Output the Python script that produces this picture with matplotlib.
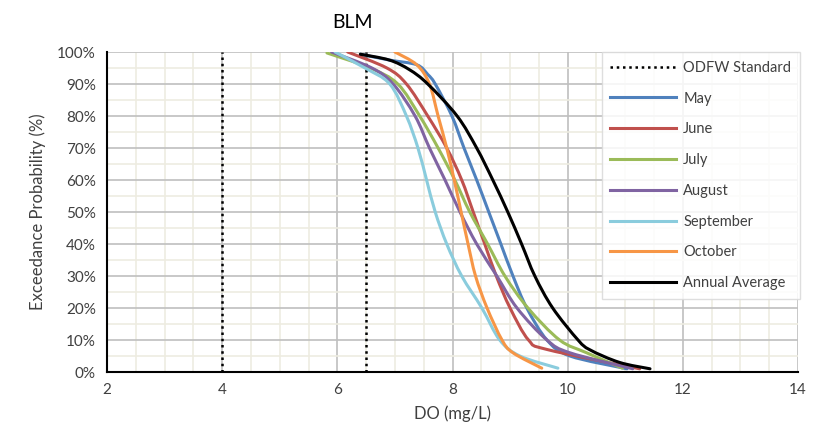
import matplotlib
matplotlib.use("Agg")
import matplotlib.pyplot as plt
from matplotlib.path import Path
from matplotlib.patches import PathPatch
from matplotlib.ticker import MultipleLocator, PercentFormatter

plt.rcParams["font.family"] = ["Lato", "DejaVu Sans"]

# exceedance probability (%) and DO (mg/L)
may_do = [6.4, 6.9, 7.38, 7.57, 7.7, 7.99, 8.2, 8.42, 8.63, 8.84, 9.05, 9.29, 9.64, 10.04, 11.03]
may_p = [99.3, 97.5, 96, 93, 90, 80, 70, 60, 50, 40, 30, 20, 10, 5, 1]

june_do = [6.18, 6.86, 7.2, 7.57, 7.9, 8.16, 8.36, 8.56, 8.76, 9.0, 9.32, 9.65, 11.25]
june_p = [100, 95, 90, 80, 70, 60, 50, 40, 30, 20, 10, 7, 1]

july_do = [5.82, 6.57, 7.05, 7.43, 7.75, 8.04, 8.3, 8.61, 8.91, 9.31, 9.86, 10.33, 10.95]
july_p = [99.7, 95, 90, 80, 70, 60, 50, 40, 30, 20, 10, 6, 1.2]

aug_do = [5.9, 6.6, 6.97, 7.35, 7.6, 7.87, 8.13, 8.42, 8.77, 9.12, 9.64, 10.04, 11.13]
aug_p = [100, 95, 90, 80, 70, 60, 50, 40, 30, 20, 10, 6, 1]

sep_do = [5.96, 6.48, 6.91, 7.2, 7.4, 7.55, 7.7, 7.9, 8.16, 8.51, 8.82, 9.17, 9.83]
sep_p = [100, 95, 90, 80, 70, 60, 50, 40, 30, 20, 10, 5, 1.2]

oct_do = [7.0, 7.38, 7.6, 7.75, 7.9, 8.03, 8.15, 8.27, 8.4, 8.6, 8.86, 9.05, 9.55]
oct_p = [100, 96, 90, 80, 70, 60, 50, 40, 30, 20, 10, 6, 1.2]

avg_do = [6.4, 6.9, 7.25, 7.57, 8.08, 8.42, 8.7, 8.96, 9.2, 9.43, 9.74, 10.18, 10.39, 10.9, 11.43]
avg_p = [99.3, 97.5, 94.5, 90, 80, 70, 60, 50, 40, 30, 20, 10, 6.9, 3, 1]

odfw_do = [4, 6.5]

series = [
    ("May", may_do, may_p, "#4F81BD"),
    ("June", june_do, june_p, "#C0504D"),
    ("July", july_do, july_p, "#9BBB59"),
    ("August", aug_do, aug_p, "#8064A2"),
    ("September", sep_do, sep_p, "#8ACCDD"),
    ("October", oct_do, oct_p, "#F79646"),
    ("Annual Average", avg_do, avg_p, "#000000"),
]


def smooth_path(xs, ys):
    # Excel-style smoothed line: Catmull-Rom segments as cubic Beziers
    pts = list(zip(xs, ys))
    verts = [pts[0]]
    codes = [Path.MOVETO]
    n = len(pts)
    for i in range(n - 1):
        p0 = pts[i - 1] if i > 0 else pts[i]
        p1 = pts[i]
        p2 = pts[i + 1]
        p3 = pts[i + 2] if i + 2 < n else pts[i + 1]
        c1 = (p1[0] + (p2[0] - p0[0]) / 6, p1[1] + (p2[1] - p0[1]) / 6)
        c2 = (p2[0] - (p3[0] - p1[0]) / 6, p2[1] - (p3[1] - p1[1]) / 6)
        verts += [c1, c2, p2]
        codes += [Path.CURVE4] * 3
    return Path(verts, codes)


fig = plt.figure(figsize=(8.13, 4.37), dpi=100)
ax = fig.add_axes([107 / 813, 65 / 437, 691 / 813, 320 / 437])

for i, x in enumerate(odfw_do):
    ax.plot([x, x], [0, 100], color="black", linestyle=(0, (1, 1.5)), lw=1.8,
            label="ODFW Standard" if i == 0 else None, zorder=3)

for name, x, y, c in series:
    ax.add_patch(PathPatch(smooth_path(x, y), fill=False, edgecolor=c, lw=2.2,
                           capstyle="round", zorder=4))
    ax.plot([], [], color=c, lw=2.2, label=name)

ax.set_xlim(2, 14)
ax.set_ylim(0, 100)
ax.xaxis.set_major_locator(MultipleLocator(2))
ax.xaxis.set_minor_locator(MultipleLocator(0.5))
ax.yaxis.set_major_locator(MultipleLocator(10))
ax.yaxis.set_minor_locator(MultipleLocator(5))
ax.yaxis.set_major_formatter(PercentFormatter(decimals=0))

ax.grid(which="minor", color="#EEECE1", lw=1.2, zorder=0)
ax.grid(which="major", color="#BFBFBF", lw=1.2, zorder=1)
ax.set_axisbelow(True)

for s in ["top", "right"]:
    ax.spines[s].set_visible(False)
for s in ["left", "bottom"]:
    ax.spines[s].set_linewidth(1.5)
    ax.spines[s].set_color("black")
    ax.spines[s].set_zorder(5)

ax.tick_params(which="both", length=0, labelsize=11, colors="#404040", pad=8)

ax.set_xlabel("DO (mg/L)", fontsize=12, color="#404040", labelpad=6)
ax.set_ylabel("Exceedance Probability (%)", fontsize=12, color="#404040", labelpad=8)
fig.text(352 / 813, 1 - 23 / 437, "BLM", fontsize=14, color="black", ha="center", va="center")

leg = ax.legend(loc="upper right", bbox_to_anchor=(1.003, 1.0), fontsize=10.5,
                frameon=True, fancybox=False, handlelength=4.5, labelspacing=1.15,
                borderpad=0.6, handletextpad=0.5, borderaxespad=0)
leg.get_frame().set_edgecolor("#D9D9D9")
leg.get_frame().set_facecolor("white")
leg.get_frame().set_alpha(0.85)
leg.set_zorder(6)
for t in leg.get_texts():
    t.set_color("#404040")

fig.savefig("out.png", dpi=100)
